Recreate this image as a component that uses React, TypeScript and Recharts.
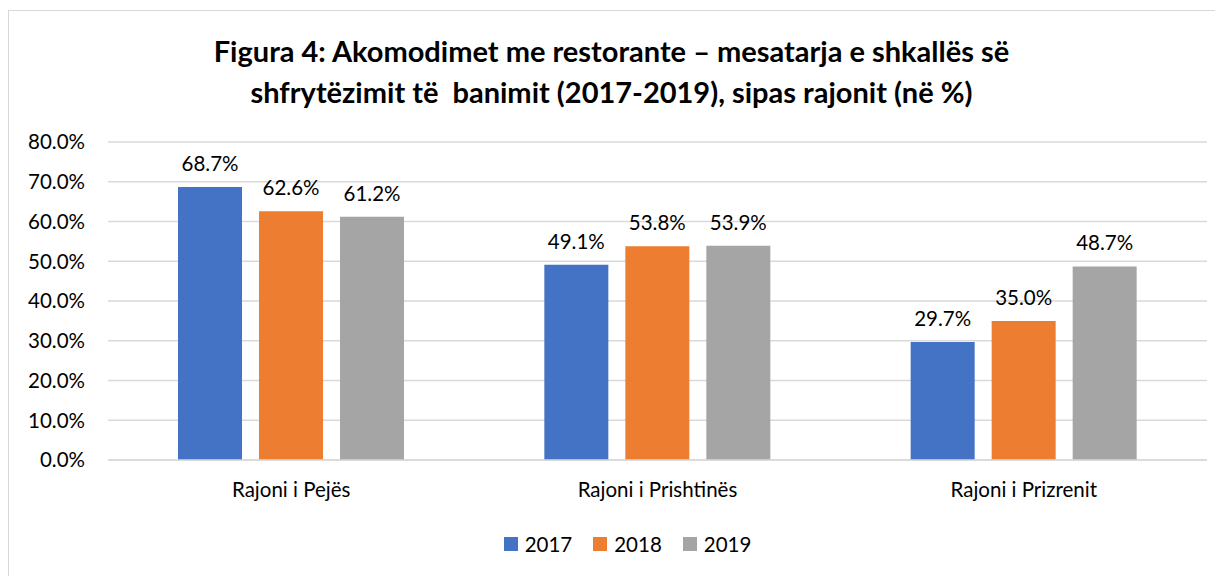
import React from "react";
import { BarChart, Bar, XAxis, YAxis, CartesianGrid, Legend, LabelList } from "recharts";

const regions = ["Rajoni i Pejës", "Rajoni i Prishtinës", "Rajoni i Prizrenit"];
const values2017 = [68.7, 49.1, 29.7];
const values2018 = [62.6, 53.8, 35.0];
const values2019 = [61.2, 53.9, 48.7];
const yTicks = [0, 10, 20, 30, 40, 50, 60, 70, 80];

const series = [
  { key: "y2017", name: "2017", color: "#4472C4" },
  { key: "y2018", name: "2018", color: "#ED7D31" },
  { key: "y2019", name: "2019", color: "#A5A5A5" },
];

const data = regions.map((region, i) => ({
  region,
  y2017: values2017[i],
  y2018: values2018[i],
  y2019: values2019[i],
}));

const FONT = "Lato, 'Open Sans', sans-serif";
const TXT = 20.5;

function LegendContent() {
  return (
    <div style={{ display: "flex", justifyContent: "center", alignItems: "center", height: 24, paddingLeft: 39, fontFamily: FONT, fontSize: TXT, color: "#000" }}>
      {series.map((s) => (
        <div key={s.key} style={{ display: "flex", alignItems: "center", margin: "0 10.5px" }}>
          <span style={{ display: "inline-block", width: 14, height: 14, background: s.color, marginRight: 7 }} />
          <span>{s.name}</span>
        </div>
      ))}
    </div>
  );
}

export default function App() {
  return (
    <div
      style={{
        position: "relative",
        marginTop: 2,
        width: 1215,
        height: 566,
        borderLeft: "1px solid #d9d9d9",
        borderTop: "1px solid #d9d9d9",
        fontFamily: FONT,
      }}
    >
      <div
        style={{
          position: "absolute",
          top: 19,
          left: 0,
          width: 1205,
          textAlign: "center",
          fontWeight: 700,
          fontSize: 29,
          lineHeight: "41px",
          color: "#000",
        }}
      >
        Figura 4: Akomodimet me restorante – mesatarja e shkallës së
        <br />
        shfrytëzimit të&nbsp; banimit (2017-2019), sipas rajonit (në %)
      </div>
      <BarChart
        width={1205}
        height={558}
        data={data}
        margin={{ top: 131, right: 7, bottom: 13, left: 0 }}
        barCategoryGap={69}
        barGap={17}
      >
        <CartesianGrid vertical={false} stroke="#d9d9d9" strokeWidth={1.5} />
        <XAxis
          dataKey="region"
          height={72}
          axisLine={{ stroke: "#d9d9d9", strokeWidth: 1.5 }}
          tickLine={false}
          tickSize={6}
          tickMargin={16}
          tick={{ fill: "#000", fontSize: TXT, fontFamily: FONT }}
        />
        <YAxis
          width={99}
          domain={[0, 80]}
          ticks={yTicks}
          interval={0}
          axisLine={false}
          tickLine={false}
          tickSize={6}
          tickMargin={17}
          tickFormatter={(v: number) => `${v.toFixed(1)}%`}
          tick={{ fill: "#000", fontSize: TXT, fontFamily: FONT }}
        />
        <Legend verticalAlign="bottom" align="center" content={<LegendContent />} />
        {series.map((s) => (
          <Bar key={s.key} dataKey={s.key} name={s.name} fill={s.color} barSize={64} isAnimationActive={false}>
            <LabelList
              dataKey={s.key}
              position="top"
              offset={16}
              formatter={(v: number) => `${Number(v).toFixed(1)}%`}
              style={{ fill: "#000", fontSize: TXT, fontFamily: FONT }}
            />
          </Bar>
        ))}
      </BarChart>
    </div>
  );
}
